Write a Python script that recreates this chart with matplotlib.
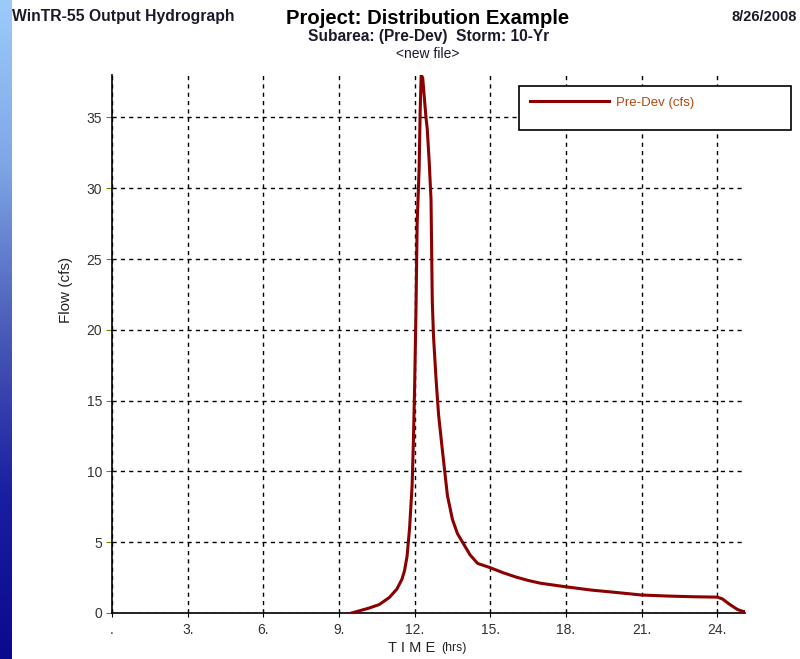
import matplotlib
matplotlib.use("Agg")
import matplotlib.pyplot as plt
import numpy as np
from matplotlib.colors import LinearSegmentedColormap
from matplotlib.patches import Rectangle

plt.rcParams['font.family'] = ['Liberation Sans', 'DejaVu Sans']

# hydrograph (hrs, cfs)
time_hrs = [9.5, 9.8, 10.2, 10.6, 11.0, 11.3, 11.5, 11.6, 11.7, 11.8, 11.9,
            11.95, 12.0, 12.05, 12.1, 12.18, 12.22, 12.26, 12.32, 12.38,
            12.45, 12.5, 12.58, 12.65, 12.7, 12.75, 12.85, 12.95, 13.1,
            13.3, 13.5, 13.7, 13.9, 14.2, 14.5, 15.0, 15.5, 16.0, 16.5,
            17.0, 18.0, 19.0, 20.0, 21.0, 22.0, 23.0, 24.0, 24.2, 24.5,
            24.8, 25.0, 25.1]
flow_cfs = [0.0, 0.15, 0.35, 0.6, 1.1, 1.7, 2.4, 3.0, 4.0, 6.0, 9.0,
            12.0, 16.0, 21.0, 27.5, 31.5, 35.5, 38.0, 37.8, 36.5,
            35.0, 34.2, 31.8, 29.2, 22.0, 19.5, 16.5, 14.0, 11.5,
            8.3, 6.6, 5.6, 5.0, 4.1, 3.5, 3.2, 2.85, 2.55, 2.3,
            2.1, 1.85, 1.62, 1.45, 1.27, 1.2, 1.15, 1.12, 1.0, 0.6,
            0.25, 0.12, 0.1]

x_ticks = [0, 3, 6, 9, 12, 15, 18, 21, 24]
x_labels = ['.', '3.', '6.', '9.', '12.', '15.', '18.', '21.', '24.']
y_ticks = [0, 5, 10, 15, 20, 25, 30, 35]

W, H = 800, 659
fig = plt.figure(figsize=(8, 6.59), dpi=100)

# blue gradient strip on the left
strip = fig.add_axes([0, 0, 12 / W, 1])
cmap = LinearSegmentedColormap.from_list(
    'strip', ['#9ccbfa', '#7ea6e6', '#4a5cb8', '#1a1ea0', '#0a0a90'])
strip.imshow(np.linspace(0, 1, 256).reshape(-1, 1), aspect='auto', cmap=cmap)
strip.axis('off')

ax = fig.add_axes([112 / W, 1 - 613 / H, (745 - 112) / W, (613 - 75) / H])
line, = ax.plot(time_hrs, flow_cfs, color='#8b0000', lw=2.2,
                label='Pre-Dev (cfs)', zorder=3)
ax.set_xlim(0, 25.1)
ax.set_ylim(0, 38)
ax.set_xticks(x_ticks)
ax.set_xticklabels(x_labels)
ax.set_yticks(y_ticks)
ax.grid(True, color='black', ls=(0, (3, 3)), lw=1.0)
for s in ['top', 'right']:
    ax.spines[s].set_visible(False)
for s in ['left', 'bottom']:
    ax.spines[s].set_linewidth(1.2)
ax.tick_params(axis='y', direction='out', length=4, color='#808000',
               labelsize=10, labelcolor='#333333', pad=3)
ax.tick_params(axis='x', direction='inout', length=6, color='black',
               labelsize=10, labelcolor='#333333', pad=4)

# legend box sits partly outside the axes
fig.patches.append(Rectangle((519 / W, 1 - 130 / H), (791 - 519) / W, 44 / H,
                             transform=fig.transFigure, facecolor='white',
                             edgecolor='black', lw=1.2, zorder=5))
leg = fig.legend(handles=[line], loc='center left',
                 bbox_to_anchor=(518 / W, 1 - 103 / H), frameon=False,
                 fontsize=9.5, handlelength=6.0, handletextpad=0.5)
leg.set_zorder(6)
for t in leg.get_texts():
    t.set_color('#b04a10')

# headers
fig.text(12 / W, 1 - 17 / H, 'WinTR-55 Output Hydrograph', fontsize=11.3,
         fontweight='bold', va='center', ha='left', color='#1a1a2a')
fig.text(428 / W, 1 - 18 / H, 'Project: Distribution Example', fontsize=14.6,
         fontweight='bold', va='center', ha='center')
fig.text(429 / W, 1 - 37 / H, 'Subarea: (Pre-Dev)  Storm: 10-Yr', fontsize=11.2,
         fontweight='bold', va='center', ha='center', color='#1a1a2a')
fig.text(428 / W, 1 - 54 / H, '<new file>', fontsize=10,
         va='center', ha='center', color='#1a1a2a')
fig.text(797 / W, 1 - 17 / H, '8/26/2008', fontsize=10.5, fontweight='bold',
         va='center', ha='right', color='#1a1a2a')

fig.text(66 / W, 1 - 290 / H, 'Flow (cfs)', fontsize=11, rotation=90,
         va='center', ha='center', color='#222222')
fig.text(412 / W, 1 - 648 / H, 'T I M E', fontsize=10.5,
         va='center', ha='center', color='#222222')
fig.text(441 / W, 1 - 648 / H, '(hrs)', fontsize=8.8,
         va='center', ha='left', color='#222222')

fig.savefig('out.png', dpi=100)
